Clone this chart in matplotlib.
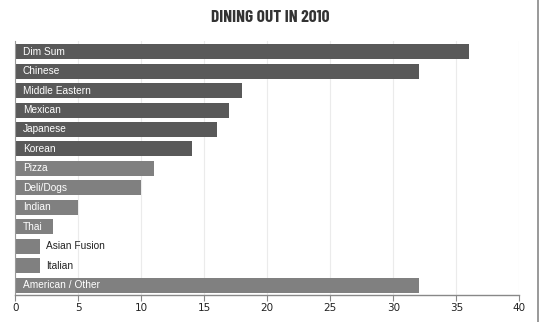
import matplotlib
matplotlib.use("Agg")
import matplotlib.pyplot as plt
from matplotlib.lines import Line2D

categories = ["Dim Sum", "Chinese", "Middle Eastern", "Mexican", "Japanese", "Korean",
              "Pizza", "Deli/Dogs", "Indian", "Thai", "Asian Fusion", "Italian", "American / Other"]
visits = [36, 32, 18, 17, 16, 14, 11, 10, 5, 3, 2, 2, 32]
x_ticks = [0, 5, 10, 15, 20, 25, 30, 35, 40]

DARK = "#595959"
LIGHT = "#808080"

fig = plt.figure(figsize=(5.4, 3.22), dpi=100)
ax = fig.add_axes([0.0283, 0.0839, 0.9334, 0.7891])

colors = [DARK if i < 6 else LIGHT for i in range(len(categories))]
ypos = list(range(len(categories)))
ax.barh(ypos, visits, height=0.77, color=colors, zorder=2)

# names sit inside the bar, or just past it when the bar is too short
for y, name, v in zip(ypos, categories, visits):
    if v >= 3:
        ax.text(0.6, y, name, color="white", fontsize=7.3, va="center", ha="left",
                family="Liberation Sans", zorder=3)
    else:
        ax.annotate(name, (v, y), xytext=(4, 0), textcoords="offset points",
                    color="#222222", fontsize=7.3, va="center", ha="left",
                    family="Liberation Sans", zorder=3)

ax.set_xlim(0, 40)
ax.set_ylim(12.5, -0.55)
ax.set_xticks(x_ticks)
ax.set_xticklabels([str(t) for t in x_ticks], fontsize=7.5, color="#222222",
                   family="DejaVu Sans")
ax.set_yticks([])
ax.grid(axis="x", color="#ebebeb", linewidth=0.8, zorder=0)

for s in ["top", "right"]:
    ax.spines[s].set_visible(False)
ax.spines["left"].set_color("#999999")
ax.spines["bottom"].set_color("#888888")
ax.spines["bottom"].set_linewidth(1.0)
ax.tick_params(axis="x", length=4, color="#888888", pad=2)

fig.text(0.5, 0.947, "DINING OUT IN 2010", ha="center", va="center", fontsize=12.5,
         fontweight="bold", family=["Barlow Condensed", "Asap Condensed", "DejaVu Sans"],
         color="#333333")

# thin frame edge on the right
fig.add_artist(Line2D([0.997, 0.997], [0, 1], transform=fig.transFigure,
                      color="#888888", linewidth=1.2))

fig.savefig("out.png", dpi=100)
